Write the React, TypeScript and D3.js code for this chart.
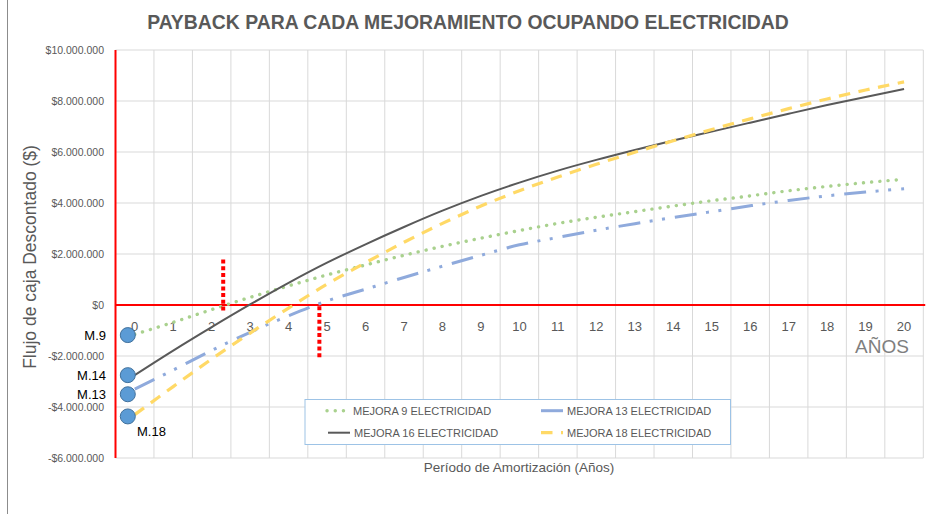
import React from "react";
import * as d3 from "d3";

const years = d3.range(0, 21);
const xTickLabels = years.map((y) => String(y));
const yTicks = [-6, -4, -2, 0, 2, 4, 6, 8, 10];

// values in millions of $
const mejora9 = [-1.15, -0.68, -0.18, 0.3, 0.75, 1.18, 1.57, 1.95, 2.3, 2.62, 2.92, 3.2, 3.44, 3.66, 3.88, 4.09, 4.28, 4.48, 4.65, 4.8, 4.93];
const mejora13 = [-3.3, -2.55, -1.78, -1.07, -0.42, 0.16, 0.62, 1.08, 1.52, 1.95, 2.36, 2.65, 2.93, 3.19, 3.43, 3.66, 3.89, 4.1, 4.28, 4.43, 4.56];
const mejora16 = [-2.75, -1.79, -0.87, 0.02, 0.87, 1.66, 2.38, 3.06, 3.7, 4.28, 4.8, 5.27, 5.69, 6.08, 6.45, 6.8, 7.15, 7.5, 7.84, 8.16, 8.47];
const mejora18 = [-4.3, -3.2, -2.12, -1.1, -0.12, 0.82, 1.66, 2.46, 3.2, 3.88, 4.48, 5.02, 5.52, 5.99, 6.44, 6.88, 7.3, 7.7, 8.08, 8.43, 8.75];

const seriesNames = ["MEJORA 9 ELECTRICIDAD", "MEJORA 13 ELECTRICIDAD", "MEJORA 16 ELECTRICIDAD", "MEJORA 18 ELECTRICIDAD"];

// start markers
const markerLabels = ["M.9", "M.14", "M.13", "M.18"];
const markerValues = [-1.18, -2.75, -3.5, -4.37];
const markerYear = -0.18;

// payback indicator lines
const paybackYears = [2.3, 4.8];
const paybackTop = [1.78, -0.05];
const paybackBottom = [-0.28, -2.15];

const FONT = "'Liberation Sans', Arial, sans-serif";

function fmtMoney(v: number) {
  if (v === 0) return "$0";
  const s = Math.abs(v * 1e6).toFixed(0).replace(/\B(?=(\d{3})+(?!\d))/g, ".");
  return (v < 0 ? "-$" : "$") + s;
}

export default function App() {
  const W = 933, H = 514;
  const x = d3.scaleLinear().domain([-0.5, 20.5]).range([115.5, 923.3]);
  const y = d3.scaleLinear().domain([-6, 10]).range([458, 50]);
  const line = d3
    .line<number>()
    .x((_, i) => x(years[i]))
    .y((d) => y(d))
    .curve(d3.curveCatmullRom.alpha(0.5));

  const styles = [
    { color: "#A9D18E", width: 3.4, dash: "0.1 8.1", cap: "round" },
    { color: "#8FAADC", width: 3, dash: "22 9.5 3 9.5 3 10", cap: "butt" },
    { color: "#595959", width: 2, dash: "", cap: "butt" },
    { color: "#FFD966", width: 3.2, dash: "11.5 8.5", cap: "butt" },
  ];
  const data = [mejora9, mejora13, mejora16, mejora18];

  const legendPos = [
    { lx: 327, ly: 410.7 },
    { lx: 541, ly: 410.7 },
    { lx: 328, ly: 432.7 },
    { lx: 541, ly: 432.7 },
  ];

  const gridX = d3.range(1, 22).map((k) => -0.5 + k);

  return (
    <svg width={W} height={H} style={{ position: "absolute", left: 0, top: 0, background: "#fff" }} fontFamily={FONT}>
      <rect x={0} y={0} width={W} height={H} fill="#fff" />
      <line x1={7.5} x2={7.5} y1={0} y2={H} stroke="#8c8c8c" strokeWidth={1} />
      {/* title */}
      <text x={468} y={29} textAnchor="middle" fontSize={19.4} fontWeight="bold" fill="#595959">
        PAYBACK PARA CADA MEJORAMIENTO OCUPANDO ELECTRICIDAD
      </text>
      {/* gridlines */}
      {yTicks.map((t) => (
        <line key={"gy" + t} x1={x(-0.5)} x2={x(20.5)} y1={y(t)} y2={y(t)} stroke="#D9D9D9" strokeWidth={1} />
      ))}
      {gridX.map((g) => (
        <line key={"gx" + g} x1={x(g)} x2={x(g)} y1={y(10)} y2={y(-6)} stroke="#D9D9D9" strokeWidth={1} />
      ))}
      {/* y tick labels */}
      {yTicks.map((t) => (
        <text key={"yl" + t} x={104} y={y(t)} dy="0.35em" textAnchor="end" fontSize={10.5} fill="#595959">
          {fmtMoney(t)}
        </text>
      ))}
      {/* red axes */}
      <line x1={x(-0.5)} x2={x(20.55)} y1={y(0)} y2={y(0)} stroke="#FF0000" strokeWidth={2} />
      <line x1={x(-0.5)} x2={x(-0.5)} y1={y(10)} y2={y(-6)} stroke="#FF0000" strokeWidth={2} />
      {/* x tick labels */}
      {years.map((yr, i) => (
        <text key={"xl" + yr} x={x(yr)} y={y(0) + 21} dy="0.35em" textAnchor="middle" fontSize={13} fill="#595959">
          {xTickLabels[i]}
        </text>
      ))}
      <text x={882} y={346} dy="0.35em" textAnchor="middle" fontSize={19} fill="#7F7F7F">
        AÑOS
      </text>
      {/* series */}
      {data.map((d, i) => (
        <path
          key={"s" + i}
          d={line(d) || ""}
          fill="none"
          stroke={styles[i].color}
          strokeWidth={styles[i].width}
          strokeDasharray={styles[i].dash || undefined}
          strokeLinecap={styles[i].cap as any}
        />
      ))}
      {/* payback dotted red lines */}
      {paybackYears.map((py, i) => (
        <line
          key={"pb" + i}
          x1={x(py)}
          x2={x(py)}
          y1={y(paybackTop[i])}
          y2={y(paybackBottom[i])}
          stroke="#FF0000"
          strokeWidth={4}
          strokeDasharray="4 2.7"
        />
      ))}
      {/* markers */}
      {markerValues.map((v, i) => (
        <circle key={"m" + i} cx={x(markerYear)} cy={y(v)} r={7.5} fill="#5B9BD5" stroke="#41719C" strokeWidth={1} />
      ))}
      {markerLabels.map((lab, i) =>
        i < 3 ? (
          <text key={"ml" + i} x={106} y={y(markerValues[i])} dy="0.35em" textAnchor="end" fontSize={13} fill="#000">
            {lab}
          </text>
        ) : (
          <text key={"ml" + i} x={137} y={y(markerValues[i]) + 15} dy="0.35em" textAnchor="start" fontSize={13} fill="#000">
            {lab}
          </text>
        )
      )}
      {/* legend */}
      <rect x={305} y={399.5} width={425.5} height={45} fill="#fff" stroke="#9DC3E6" strokeWidth={1} />
      {seriesNames.map((name, i) => (
        <g key={"lg" + i}>
          <line
            x1={legendPos[i].lx}
            x2={legendPos[i].lx + 22}
            y1={legendPos[i].ly}
            y2={legendPos[i].ly}
            stroke={styles[i].color}
            strokeWidth={styles[i].width}
            strokeDasharray={styles[i].dash || undefined}
            strokeLinecap={styles[i].cap as any}
          />
          <text x={legendPos[i].lx + 26} y={legendPos[i].ly} dy="0.35em" fontSize={11} fill="#595959">
            {name}
          </text>
        </g>
      ))}
      {/* axis titles */}
      <text x={519} y={467} dy="0.35em" textAnchor="middle" fontSize={13.5} fill="#595959">
        Período de Amortización (Años)
      </text>
      <text transform={`translate(36,257) rotate(-90)`} textAnchor="middle" fontSize={17.5} fill="#595959">
        Flujo de caja Descontado ($)
      </text>
    </svg>
  );
}
